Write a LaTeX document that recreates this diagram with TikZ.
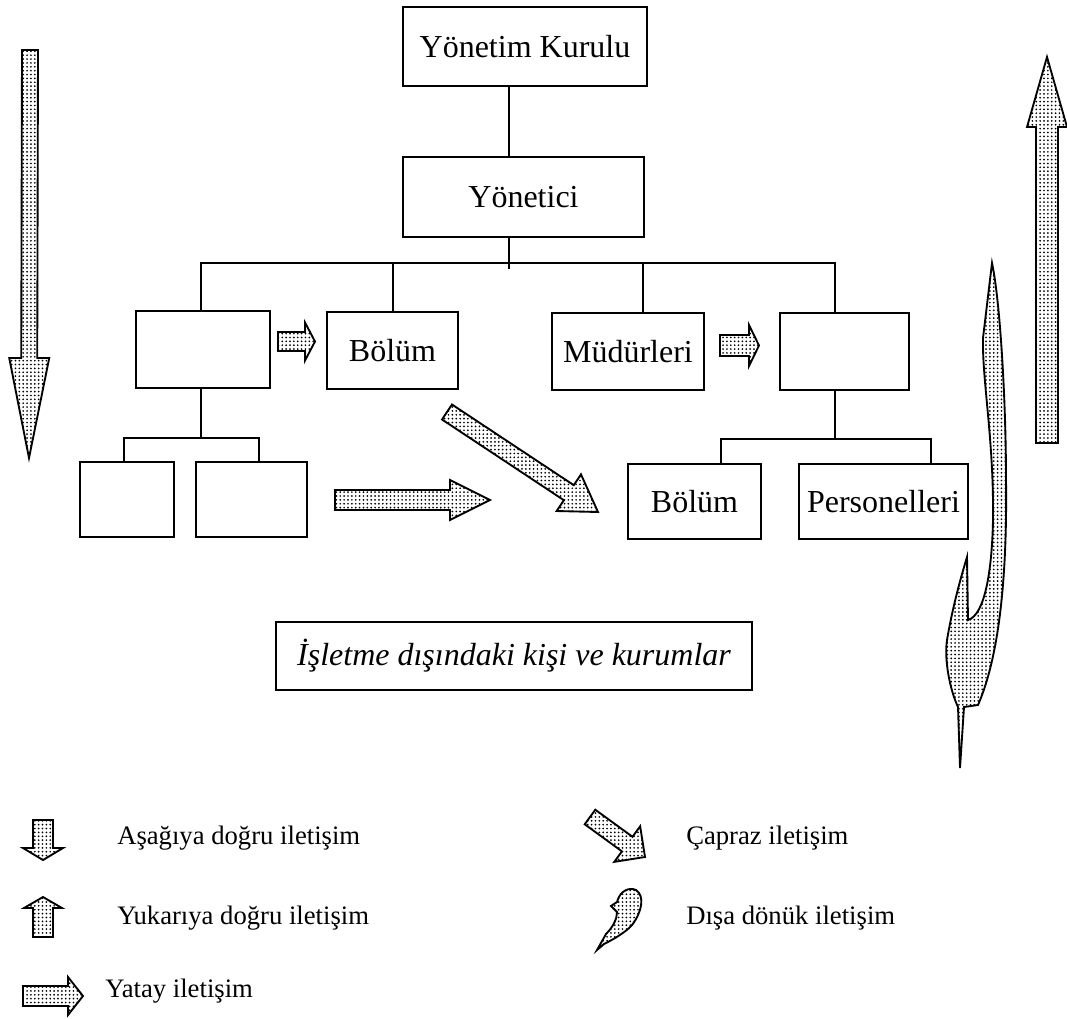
\documentclass[tikz,border=0pt]{standalone}
\usepackage{fontspec}
\setmainfont{Liberation Serif}
\usetikzlibrary{patterns,calc}
\pgfdeclarepatternformonly{stipdots}{\pgfpoint{-1pt}{-1pt}}{\pgfpoint{1pt}{1pt}}{\pgfpoint{2.9pt}{2.9pt}}{%
  \pgfpathcircle{\pgfpointorigin}{0.72pt}\pgfusepath{fill}}
\tikzset{
  stip/.style={draw=black, line width=1.4pt, line join=miter, pattern=stipdots, pattern color=black},
  box/.style={draw=black, line width=0.9pt, inner sep=0pt, font=\fontsize{24}{28}\selectfont},
  conn/.style={draw=black, line width=0.9pt},
  legtext/.style={anchor=west, inner sep=0pt, font=\fontsize{20}{24}\selectfont}
}
% #1 options, #2 tail, #3 tip, #4 shaft half width, #5 head half width, #6 head length
\newcommand{\fatarrow}[6][]{%
  \coordinate (fatT) at (#2);
  \coordinate (fatH) at (#3);
  \coordinate (fatB) at ($(fatH)!#6!(fatT)$);
  \draw[stip,#1] ($(fatT)!#4!90:(fatH)$) -- ($(fatB)!#4!-90:(fatT)$) -- ($(fatB)!#5!-90:(fatT)$) -- (fatH) -- ($(fatB)!#5!90:(fatT)$) -- ($(fatB)!#4!90:(fatT)$) -- ($(fatT)!#4!-90:(fatH)$) -- cycle;
}
\begin{document}
\begin{tikzpicture}[x=0.75pt, y=-0.75pt]
\useasboundingbox (0,0) rectangle (1067,1018);

% boxes
\node[box, minimum width=183pt, minimum height=59.25pt] (yk) at (525,46.5) {Yönetim Kurulu};
\node[box, minimum width=180.75pt, minimum height=60pt] (yon) at (523.5,197) {Yönetici};
\node[box, minimum width=100.5pt, minimum height=57.75pt] (a) at (203,349.5) {};
\node[box, minimum width=98.25pt, minimum height=57.75pt] (b) at (392.5,350.5) {Bölüm};
\node[box, minimum width=114pt, minimum height=57.75pt] (c) at (628,351.5) {Müdürleri};
\node[box, minimum width=96.75pt, minimum height=57.75pt] (d) at (844.5,351.5) {};
\node[box, minimum width=70.5pt, minimum height=56.25pt] (e) at (127,499.5) {};
\node[box, minimum width=83.25pt, minimum height=56.25pt] (f) at (251.5,499.5) {};
\node[box, minimum width=99.75pt, minimum height=56.25pt] (g) at (694.5,501.5) {Bölüm};
\node[box, minimum width=126.75pt, minimum height=56.25pt] (h) at (883.5,501.5) {Personelleri};
\node[box, minimum width=357pt, minimum height=51pt, font=\fontsize{24}{28}\selectfont\itshape] (ext) at (514,656) {İşletme dışındaki kişi ve kurumlar};

% connector coordinates
\coordinate (bus) at (509,263);
\coordinate (busL) at (201,263);
\coordinate (busB) at (393,263);
\coordinate (busC) at (643,263);
\coordinate (busR) at (835,263);
\coordinate (subL) at (201,438);
\coordinate (subLa) at (124,438);
\coordinate (subLb) at (259,438);
\coordinate (subR) at (835,439);
\coordinate (subRa) at (721,439);
\coordinate (subRb) at (931,439);

% connectors
\draw[conn] (yk.south -| bus) -- (yon.north -| bus);
\draw[conn] (yon.south -| bus) -- ($(bus)+(0,6)$);
\draw[conn] (busL |- a.north) -- (busL) -- (busR) -- (busR |- d.north);
\draw[conn] (busB) -- (busB |- b.north);
\draw[conn] (busC) -- (busC |- c.north);
\draw[conn] (subL |- a.south) -- (subL);
\draw[conn] (subLa |- e.north) -- (subLa) -- (subLb) -- (subLb |- f.north);
\draw[conn] (subR |- d.south) -- (subR);
\draw[conn] (subRa |- g.north) -- (subRa) -- (subRb) -- (subRb |- h.north);

% big arrows
\fatarrow{30,50}{29,458}{6pt}{15pt}{75pt}
\fatarrow{1047,443}{1047,57}{8.25pt}{15pt}{52.5pt}
\fatarrow{278,341.5}{315,341.5}{7.1pt}{14.25pt}{7.5pt}
\fatarrow{720,345.5}{759,345.5}{7.9pt}{15.4pt}{7.5pt}
\fatarrow{335,500}{490,500}{7.5pt}{15pt}{30pt}
\fatarrow{447,412}{598,512}{6.75pt}{16.5pt}{26.25pt}

% curved outward arrow
\draw[stip] (992,263) .. controls (1000,300) and (1006,400) .. (1006,480)
  .. controls (1007,560) and (1002,650) .. (978,705)
  -- (964,707) -- (960,768) -- (958,707)
  .. controls (950,690) and (944,660) .. (947,640)
  .. controls (952,610) and (960,580) .. (967,557)
  -- (968,620)
  .. controls (985,615) and (992,570) .. (993,520)
  .. controls (994,440) and (982,380) .. (983,338)
  -- cycle;

% legend icons
\fatarrow{43,820}{43,860}{7.5pt}{15pt}{9pt}
\fatarrow{43,937}{43,897}{7.5pt}{14.25pt}{8.25pt}
\fatarrow{23,996}{83,996}{7.5pt}{14.25pt}{11.25pt}
\fatarrow{590,817}{645,857}{6.75pt}{16.5pt}{16.5pt}
\draw[stip] (597,950) -- (606,934) .. controls (614,926) and (617,918) .. (617,912)
  -- (611,906) -- (617,902) .. controls (620,890) and (630,887) .. (636,890)
  .. controls (645,896) and (642,912) .. (632,925)
  .. controls (625,933) and (612,940) .. (604,944) -- cycle;

% legend texts
\node[legtext] (l1) at (117,838) {Aşağıya doğru iletişim};
\node[legtext] (l2) at (117,918) {Yukarıya doğru iletişim};
\node[legtext] (l3) at (105,991) {Yatay iletişim};
\node[legtext] (l4) at (686,838) {Çapraz iletişim};
\node[legtext] (l5) at (686,918) {Dışa dönük iletişim};
\end{tikzpicture}
\end{document}
